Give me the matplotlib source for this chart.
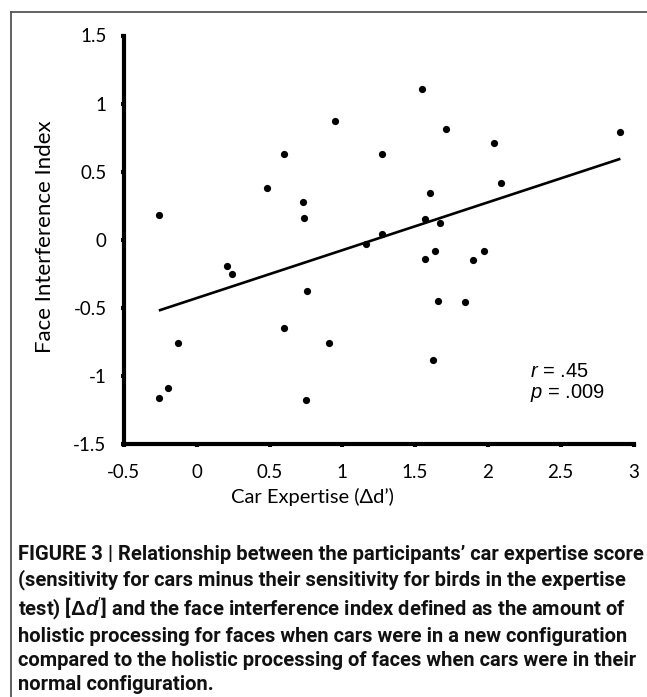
import numpy as np
import matplotlib
matplotlib.use("Agg")
import matplotlib.pyplot as plt
from matplotlib.lines import Line2D
from matplotlib import font_manager

# ---------------- data ----------------
car_expertise = [-0.26, 0.48, 0.60, 0.73, 0.74, 0.95, 1.27, 1.16, 1.27, 0.21,
                 0.24, -0.13, -0.20, -0.26, 0.60, 0.76, 0.91, 0.75, 1.55, 1.71,
                 2.04, 2.09, 1.60, 1.57, 1.67, 1.64, 1.57, 1.97, 1.90, 1.66,
                 1.84, 1.62, 2.91]
face_interference = [0.18, 0.38, 0.63, 0.28, 0.16, 0.87, 0.63, -0.03, 0.04, -0.19,
                     -0.25, -0.76, -1.09, -1.16, -0.65, -0.38, -0.76, -1.18, 1.11, 0.81,
                     0.71, 0.42, 0.34, 0.15, 0.12, -0.08, -0.14, -0.08, -0.15, -0.45,
                     -0.46, -0.88, 0.79]
x_ticks = [-0.5, 0, 0.5, 1, 1.5, 2, 2.5, 3]
x_tick_labels = ["-0.5", "0", "0.5", "1", "1.5", "2", "2.5", "3"]
y_ticks = [-1.5, -1, -0.5, 0, 0.5, 1, 1.5]
y_tick_labels = ["-1.5", "-1", "-0.5", "0", "0.5", "1", "1.5"]
x_label = "Car Expertise (\u0394d\u2019)"
y_label = "Face Interference Index"
r_text = r"$\mathit{r}$ = .45"
p_text = r"$\mathit{p}$ = .009"
caption_lines = [
    "FIGURE 3 | Relationship between the participants\u2019 car expertise score",
    "(sensitivity for cars minus their sensitivity for birds in the expertise",
    r"test) [$\mathbf{\Delta}\mathbfit{d}'$] and the face interference index defined as the amount of",
    "holistic processing for faces when cars were in a new configuration",
    "compared to the holistic processing of faces when cars were in their",
    "normal configuration.",
]


def pick_font(cands):
    for c in cands:
        try:
            font_manager.findfont(c, fallback_to_default=False)
            return c
        except Exception:
            continue
    return "DejaVu Sans"


axis_font = pick_font(["Lato", "Open Sans", "DejaVu Sans"])
cap_font = pick_font(["Liberation Sans Narrow", "Roboto", "Liberation Sans"])

plt.rcParams["mathtext.fontset"] = "custom"
plt.rcParams["mathtext.rm"] = "Liberation Sans"
plt.rcParams["mathtext.it"] = "Liberation Sans:italic"
plt.rcParams["mathtext.bf"] = "Liberation Sans:bold"
plt.rcParams["mathtext.bfit"] = "Liberation Sans:italic:bold"

W, H = 647, 697
fig = plt.figure(figsize=(W / 100, H / 100), dpi=100)
fig.patch.set_facecolor("white")

# axes placed in pixel terms
x0, x1 = 123.9, 633.5
y_top, y_bot = 35.5, 444.0
ax = fig.add_axes([x0 / W, 1 - y_bot / H, (x1 - x0) / W, (y_bot - y_top) / H])
ax.set_xlim(-0.5, 3)
ax.set_ylim(-1.5, 1.5)
for s in ["top", "right"]:
    ax.spines[s].set_visible(False)
for s in ["left", "bottom"]:
    ax.spines[s].set_linewidth(3.0)
    ax.spines[s].set_color("black")
    ax.spines[s].set_capstyle("projecting")

ax.set_xticks(x_ticks)
ax.set_xticklabels(x_tick_labels)
ax.set_yticks(y_ticks)
ax.set_yticklabels(y_tick_labels)
ax.tick_params(axis="both", direction="out", length=2.5, width=3.0, color="black",
               labelsize=13.5, labelcolor="black")
ax.tick_params(axis="x", pad=12)
ax.tick_params(axis="y", pad=10)
for lab in ax.get_xticklabels() + ax.get_yticklabels():
    lab.set_family([axis_font, "DejaVu Sans"])

# scatter
ax.scatter(car_expertise, face_interference, s=27, color="black", zorder=3,
           linewidths=0)

# regression line
xs = np.array(car_expertise)
ys = np.array(face_interference)
slope, intercept = np.polyfit(xs, ys, 1)
lx = np.array([xs.min(), xs.max()])
ax.plot(lx, slope * lx + intercept, color="black", lw=1.9, solid_capstyle="butt",
        zorder=2)

# stats text
ax.text(0.797, 0.178, r_text, transform=ax.transAxes, fontsize=14.5,
        family="Liberation Sans", va="center", ha="left")
ax.text(0.797, 0.124, p_text, transform=ax.transAxes, fontsize=14.5,
        family="Liberation Sans", va="center", ha="left")

# axis labels
fig.text(312 / W, 1 - 497 / H, x_label, ha="center", va="center", fontsize=14.5,
         family=[axis_font, "DejaVu Sans"])
fig.text(45 / W, 1 - 237 / H, y_label, ha="center", va="center", fontsize=16,
         rotation=90, family=[axis_font, "DejaVu Sans"])

# caption
fig.text(18 / W, 1 - 545 / H, "\n".join(caption_lines), ha="left", va="top",
         fontsize=14.5, fontweight="bold", family=[cap_font, "DejaVu Sans"],
         linespacing=1.32, color="#111111")

# frame lines (top and left)
bx, by = 11 / W, 1 - 12 / H
fig.add_artist(Line2D([bx, 1.0], [by, by], transform=fig.transFigure,
                      color="#555555", lw=1.3))
fig.add_artist(Line2D([bx, bx], [0.0, by], transform=fig.transFigure,
                      color="#555555", lw=1.3))

fig.savefig("out.png", dpi=100, facecolor="white")
